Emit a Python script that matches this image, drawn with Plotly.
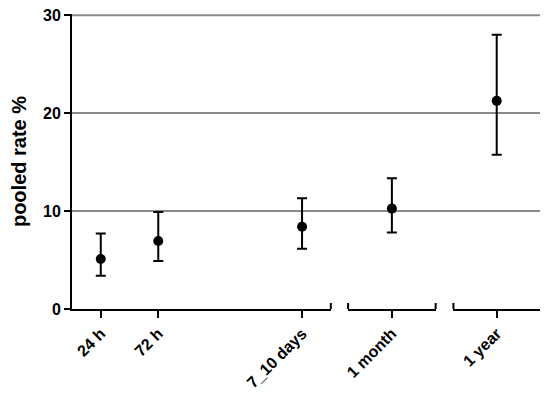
import plotly.graph_objects as go

# ---- data ----
categories = ["24 h", "72 h", "7_10 days", "1 month", "1 year"]
days = [1, 3, 8, 30, 365]
rate = [5.1, 6.95, 8.4, 10.25, 21.25]
ci_low = [3.4, 4.9, 6.15, 7.8, 15.75]
ci_high = [7.7, 9.9, 11.3, 13.35, 28.0]
y_ticks = [0, 10, 20, 30]

# segmented x axis: day ranges shown in each piece
segments = [(0, 9), (20, 40), (335, 395)]
domains = [(0.0, 0.553), (0.590, 0.777), (0.815, 1.0)]

FONT = "Arial, Liberation Sans, sans-serif"

fig = go.Figure()
shapes = []
layout_axes = {}
for i, ((lo, hi), dom) in enumerate(zip(segments, domains)):
    idx = [k for k, d in enumerate(days) if lo <= d <= hi]
    xname = "x" if i == 0 else f"x{i + 1}"
    axkey = "xaxis" if i == 0 else f"xaxis{i + 1}"
    fig.add_trace(go.Scatter(
        x=[days[k] for k in idx],
        y=[rate[k] for k in idx],
        mode="markers",
        marker=dict(size=10, color="black"),
        error_y=dict(type="data", symmetric=False,
                     array=[ci_high[k] - rate[k] for k in idx],
                     arrayminus=[rate[k] - ci_low[k] for k in idx],
                     color="black", thickness=2, width=5),
        xaxis=xname, yaxis="y", cliponaxis=False, showlegend=False,
    ))
    layout_axes[axkey] = dict(
        domain=list(dom), range=[lo, hi], anchor="y", automargin=False,
        tickmode="array", tickvals=[days[k] for k in idx],
        ticktext=[categories[k] for k in idx],
        showline=True, linecolor="black", linewidth=2,
        ticks="outside", ticklen=7, tickwidth=2, tickcolor="black",
        tickangle=-45, showgrid=False, zeroline=False,
        ticklabeloverflow="allow",
        tickfont=dict(family=FONT, size=16, color="black", weight="bold"),
    )
    # end caps of the axis pieces
    ends = []
    if i > 0:
        ends.append(0)
    if i < len(segments) - 1:
        ends.append(1)
    for e in ends:
        shapes.append(dict(
            type="line", xref=f"{xname} domain", x0=e, x1=e,
            yref="y", ysizemode="pixel", yanchor=0, y0=-6, y1=6,
            line=dict(color="black", width=2),
        ))

for v in y_ticks[1:]:
    shapes.append(dict(type="line", xref="paper", x0=0, x1=1,
                       yref="y", y0=v, y1=v, layer="below",
                       line=dict(color="#8a8a8a", width=2)))

fig.update_layout(
    width=550, height=394,
    margin=dict(l=64, r=18, t=6, b=93, autoexpand=False),
    paper_bgcolor="white", plot_bgcolor="white",
    shapes=shapes,
    yaxis=dict(
        range=[0, y_ticks[-1] * 1.004], anchor="x", automargin=False,
        tickmode="array", tickvals=y_ticks,
        showline=True, linecolor="black", linewidth=2,
        ticks="outside", ticklen=6, tickwidth=2, tickcolor="black",
        showgrid=False, zeroline=False, ticklabeloverflow="allow",
        tickfont=dict(family=FONT, size=16, color="black", weight="bold"),
        title=dict(text="pooled rate %", standoff=15,
                   font=dict(family=FONT, size=20, color="black", weight="bold")),
    ),
    **layout_axes,
)

fig.write_html("out.html")
